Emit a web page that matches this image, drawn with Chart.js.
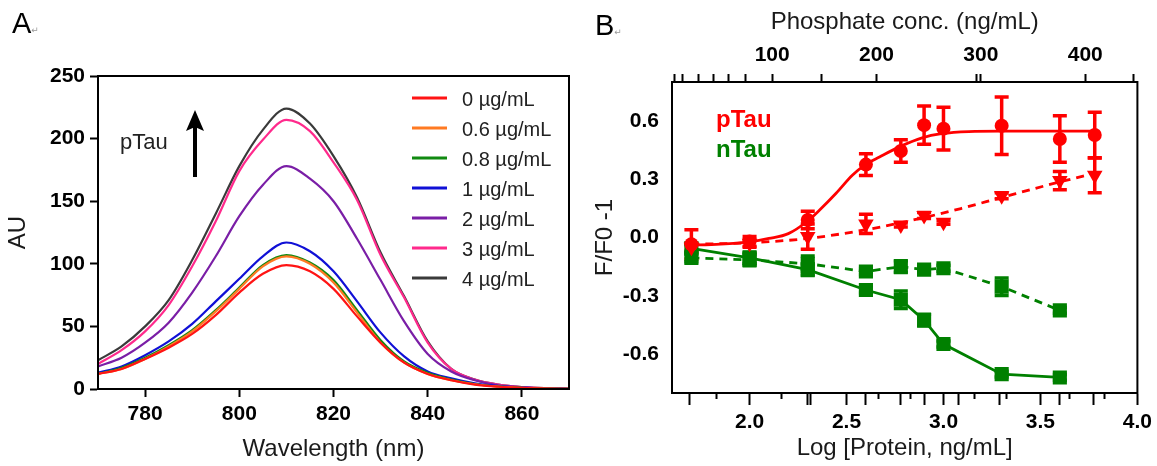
<!DOCTYPE html>
<html><head><meta charset="utf-8">
<script src="https://cdn.jsdelivr.net/npm/chart.js@4.4.1/dist/chart.umd.min.js"></script>
<style>
html,body{margin:0;padding:0;background:#fff;}
#wrap{position:relative;width:1157px;height:466px;overflow:hidden;background:#fff;}
canvas{position:absolute;top:0;}
#cA{left:0;} #cB{left:580px;}
.pl{position:absolute;font-family:"Liberation Sans",Arial,sans-serif;font-size:29px;color:#000;line-height:normal;}
.pl span{font-size:9px;color:#999;font-family:"DejaVu Sans",sans-serif;}
</style></head><body>
<div id="wrap">
<canvas id="cA" width="580" height="466"></canvas>
<canvas id="cB" width="577" height="466"></canvas>
<div class="pl" style="left:12px;top:7px;">A<span>↵</span></div>
<div class="pl" style="left:595px;top:9px;">B<span>↵</span></div>
</div>
<script>
// ---------- Panel A data ----------
const wavelengths = [770,775,780,785,790,795,800,805,810,815,820,825,830,835,840,845,850,855,860,865,870];
const au_0   = [12,16,24,33,44,59,77,92,99,94,80,58,37,21,12,7,3.5,1.8,0.9,0.4,0.1];
const au_06  = [12,16,24,34,46,62,80,98,106,100,85,61,37,21,12,7,3.8,2,1,0.4,0.1];
const au_08  = [12,17,25,35,47,63,81,99,107,101,87,63,39,22,13,7.5,4,2,1,0.4,0.1];
const au_1   = [13,18,27,38,52,70,88,106,117,110,94,70,45,26,14,8.5,4.5,2.3,1.2,0.5,0.2];
const au_2   = [18,25,37,53,77,106,138,163,178,168,150,120,87,54,28,14,7,3,1.4,0.5,0.2];
const au_3   = [20,31,46,67,98,134,174,199,215,206,181,151,107,73,37,16,7.5,3.5,1.5,0.6,0.2];
const au_4   = [23,34,50,71,103,140,178,207,224,212,186,153,109,74,38,16,7.5,3.5,1.5,0.6,0.2];
const concLabels = ['0 µg/mL','0.6 µg/mL','0.8 µg/mL','1 µg/mL','2 µg/mL','3 µg/mL','4 µg/mL'];
const wavelengthTicks = [780,800,820,840,860];
const auTicks = [0,50,100,150,200,250];

// ---------- Panel B data ----------
const logConc      = [1.70,2.00,2.30,2.60,2.78,2.90,3.00,3.30,3.60,3.78];
const pTauCircle   = [-0.035,-0.02,0.09,0.375,0.445,0.578,0.56,0.575,0.507,0.527];
const pTauCircleErr= [0.075,0.025,0.045,0.056,0.058,0.098,0.11,0.148,0.12,0.118];
const pTauTri      = [-0.05,-0.03,0.005,0.07,0.064,0.113,0.078,0.215,0.293,0.32];
const pTauTriErr   = [0.02,0.02,0.065,0.05,0.01,0.015,0.01,0.015,0.047,0.09];
const pTauFitX     = [1.68,1.85,2.0,2.1,2.2,2.3,2.36,2.445,2.53,2.6,2.67,2.78,2.89,2.99,3.13,3.3,3.5,3.78];
const pTauFitY     = [-0.04,-0.034,-0.022,-0.005,0.02,0.085,0.14,0.226,0.32,0.376,0.414,0.47,0.513,0.534,0.545,0.547,0.547,0.547];
const pTauTriFitX  = [1.70,2.0,2.3,2.6,2.84,3.09,3.3,3.6,3.78];
const pTauTriFitY  = [-0.035,-0.027,-0.005,0.04,0.089,0.149,0.206,0.286,0.33];
const nTauConc     = [1.70,2.00,2.30,2.60,2.78,2.90,3.00,3.30,3.60];
const nTauSolid    = [-0.056,-0.105,-0.165,-0.27,-0.32,-0.425,-0.548,-0.703,-0.72];
const nTauSolidErr = [0.02,0.03,0.03,0.015,0.045,0.03,0.015,0.015,0.015];
const nTauDash     = [-0.105,-0.115,-0.135,-0.175,-0.15,-0.165,-0.158,-0.253,-0.375];
const nTauDashErr  = [0.02,0.03,0.04,0.015,0.03,0.015,0.015,0.045,0.015];
const logTicksLong  = [1.692,2.0,2.299,2.316,2.5,2.598,2.778,2.903,3.0,3.08,3.29,3.5,3.598,3.774,4.0];
const logTicksShort = [1.832,2.166,2.663,2.829,3.162,3.325,3.65,3.829];
const logLabelValues = [2.0,2.5,3.0,3.5,4.0];
const logLabelTexts  = ['2.0','2.5','3.0','3.5','4.0'];
const phosTicks = [6,14,29,44,58,74,100,147,200,296,300,400,446];
const phosLabelValues = [100,200,300,400];
const phosLabelTexts  = ['100','200','300','400'];
const ratioTicks = [-0.6,-0.3,0,0.3,0.6];
const ratioTickLabels = ['-0.6','-0.3','0.0','0.3','0.6'];

// ---------- styling ----------
const FONT = '"Liberation Sans", Arial, sans-serif';
Chart.defaults.font.family = FONT;
const tickFont = {family: FONT, size: 21, weight: 'bold'};
const titleFont = {family: FONT, size: 24, weight: 'normal'};
const RED = '#ff0000', GREEN = '#008000';
const specColors = ['#ff1414','#ff7a22','#118a11','#1010d6','#7a1ea6','#ff2a8c','#3a3a3a'];

const pts = (xs, ys) => xs.map((x, i) => ({x: x, y: ys[i]}));
const labelFrom = (vals, texts) => (v) => {
  const k = vals.findIndex(t => Math.abs(t - v) < 1e-6);
  return k >= 0 ? texts[k] : '';
};

const frame = {
  id: 'frame',
  afterDraw(c) {
    const a = c.chartArea, ctx = c.ctx;
    ctx.save(); ctx.strokeStyle = '#000'; ctx.lineWidth = 2;
    ctx.strokeRect(a.left, a.top, a.right - a.left, a.bottom - a.top);
    ctx.restore();
  }
};

const legendA = {
  id: 'legendA',
  afterDraw(c) {
    const ctx = c.ctx;
    ctx.save();
    ctx.font = '20px ' + FONT; ctx.textBaseline = 'middle'; ctx.fillStyle = '#222';
    c.data.datasets.forEach((ds, i) => {
      const y = 98 + 30 * i;
      ctx.strokeStyle = ds.borderColor; ctx.lineWidth = 3;
      ctx.beginPath(); ctx.moveTo(412, y); ctx.lineTo(447, y); ctx.stroke();
      ctx.fillText(ds.label, 462, y + 2);
    });
    ctx.restore();
  }
};

const annA = {
  id: 'annA',
  afterDraw(c) {
    const ctx = c.ctx;
    ctx.save();
    ctx.fillStyle = '#222'; ctx.font = '22px ' + FONT; ctx.textBaseline = 'alphabetic';
    ctx.fillText('pTau', 120, 149);
    ctx.fillStyle = '#000';
    ctx.fillRect(193, 126, 4, 51);
    ctx.beginPath(); ctx.moveTo(195, 110); ctx.lineTo(186, 131); ctx.lineTo(195, 127); ctx.lineTo(204, 131); ctx.closePath(); ctx.fill();
    ctx.restore();
  }
};

new Chart(document.getElementById('cA'), {
  type: 'line',
  data: {
    datasets: [au_0, au_06, au_08, au_1, au_2, au_3, au_4].map((s, i) => ({
      label: concLabels[i], data: pts(wavelengths, s), borderColor: specColors[i],
      borderWidth: 2.2, pointRadius: 0, cubicInterpolationMode: 'monotone', fill: false
    }))
  },
  options: {
    responsive: false, animation: false, events: [],
    layout: {padding: {top: 76, right: 11, left: 0, bottom: 0}},
    plugins: {legend: {display: false}, tooltip: {enabled: false}},
    scales: {
      x: {
        type: 'linear', position: 'bottom', min: 770, max: 870,
        afterBuildTicks: s => { s.ticks = wavelengthTicks.map(v => ({value: v})); },
        afterFit: s => { s.height = 77; },
        ticks: {font: tickFont, color: '#000', padding: 5, maxRotation: 0, autoSkip: false, callback: v => String(v)},
        grid: {drawOnChartArea: false, drawTicks: true, tickLength: 8, tickWidth: 2, tickColor: '#000'},
        border: {display: true, color: '#000', width: 2},
        title: {display: true, text: 'Wavelength (nm)', font: titleFont, color: '#1a1a1a', padding: {top: 0, bottom: 2}}
      },
      y: {
        type: 'linear', position: 'left', min: 0, max: 250,
        afterBuildTicks: s => { s.ticks = auTicks.map(v => ({value: v})); },
        afterFit: s => { s.width = 98; },
        ticks: {font: tickFont, color: '#000', padding: 5, autoSkip: false, callback: v => String(v)},
        grid: {drawOnChartArea: false, drawTicks: true, tickLength: 8, tickWidth: 2, tickColor: '#000'},
        border: {display: true, color: '#000', width: 2},
        title: {display: true, text: 'AU', font: titleFont, color: '#1a1a1a', padding: {top: 4, bottom: 0}}
      }
    }
  },
  plugins: [frame, legendA, annA]
});

// ---------- Panel B ----------
const errorBars = {
  id: 'errorBars',
  beforeDatasetsDraw(c) {
    const ctx = c.ctx;
    c.data.datasets.forEach((ds, i) => {
      if (!ds.errors) return;
      const meta = c.getDatasetMeta(i);
      const xs = c.scales[meta.xAxisID], ys = c.scales[meta.yAxisID];
      ctx.save(); ctx.strokeStyle = ds.borderColor; ctx.lineWidth = 3.5;
      ds.data.forEach((p, j) => {
        const e = ds.errors[j];
        const x = xs.getPixelForValue(p.x);
        const yt = ys.getPixelForValue(p.y + e), yb = ys.getPixelForValue(p.y - e);
        ctx.beginPath();
        ctx.moveTo(x, yt); ctx.lineTo(x, yb);
        ctx.moveTo(x - 7, yt); ctx.lineTo(x + 7, yt);
        ctx.moveTo(x - 7, yb); ctx.lineTo(x + 7, yb);
        ctx.stroke();
      });
      ctx.restore();
    });
  }
};

const annB = {
  id: 'annB',
  afterDraw(c) {
    const ctx = c.ctx;
    ctx.save();
    ctx.font = 'bold 24px ' + FONT; ctx.textBaseline = 'alphabetic';
    ctx.fillStyle = RED; ctx.fillText('pTau', 136, 127);
    ctx.fillStyle = GREEN; ctx.fillText('nTau', 136, 157);
    ctx.restore();
  }
};

new Chart(document.getElementById('cB'), {
  type: 'line',
  data: {
    datasets: [
      {label: 'pTau', data: pts(logConc, pTauCircle), errors: pTauCircleErr, showLine: false,
       borderColor: RED, backgroundColor: RED, pointStyle: 'circle', pointRadius: 7, pointBorderWidth: 0},
      {label: 'pTau fit', data: pts(pTauFitX, pTauFitY), borderColor: RED, borderWidth: 2.8,
       pointRadius: 0, cubicInterpolationMode: 'monotone'},
      {label: 'pTau tri', data: pts(logConc, pTauTri), errors: pTauTriErr, showLine: false,
       borderColor: RED, backgroundColor: RED, pointStyle: 'triangle', pointRotation: 180, pointRadius: 9, pointBorderWidth: 0},
      {label: 'pTau tri fit', data: pts(pTauTriFitX, pTauTriFitY), borderColor: RED, borderWidth: 2.8,
       borderDash: [8, 6], pointRadius: 0, cubicInterpolationMode: 'monotone'},
      {label: 'nTau', data: pts(nTauConc, nTauSolid), errors: nTauSolidErr, borderColor: GREEN, backgroundColor: GREEN,
       borderWidth: 2.8, pointStyle: 'rect', pointRadius: 10, pointBorderWidth: 0},
      {label: 'nTau dashed', data: pts(nTauConc, nTauDash), errors: nTauDashErr, borderColor: GREEN, backgroundColor: GREEN,
       borderWidth: 2.8, borderDash: [8, 6], pointStyle: 'rect', pointRadius: 10, pointBorderWidth: 0}
    ]
  },
  options: {
    responsive: false, animation: false, events: [],
    layout: {padding: {top: 0, right: 17, left: 0, bottom: 0}},
    plugins: {legend: {display: false}, tooltip: {enabled: false}},
    scales: {
      x: {
        type: 'linear', position: 'bottom', weight: 1, min: 1.6, max: 4.0,
        afterBuildTicks: s => { s.ticks = logTicksLong.map(v => ({value: v})); },
        afterFit: s => { s.height = 73; },
        ticks: {font: tickFont, color: '#000', padding: 5, maxRotation: 0, autoSkip: false,
                callback: labelFrom(logLabelValues, logLabelTexts)},
        grid: {drawOnChartArea: false, drawTicks: true, tickLength: 12, tickWidth: 2, tickColor: '#000'},
        border: {display: true, color: '#000', width: 2},
        title: {display: true, text: 'Log [Protein, ng/mL]', font: titleFont, color: '#1a1a1a', padding: {top: 0, bottom: 3}}
      },
      xMinor: {
        type: 'linear', position: 'bottom', weight: 0, min: 1.6, max: 4.0,
        afterBuildTicks: s => { s.ticks = logTicksShort.map(v => ({value: v})); },
        afterFit: s => { s.height = 0; },
        ticks: {display: false, autoSkip: false},
        grid: {drawOnChartArea: false, drawTicks: true, tickLength: 6, tickWidth: 2, tickColor: '#000'},
        border: {display: false}
      },
      xTop: {
        type: 'linear', position: 'top', min: 4, max: 450,
        afterBuildTicks: s => { s.ticks = phosTicks.map(v => ({value: v})); },
        afterFit: s => { s.height = 82; },
        ticks: {font: tickFont, color: '#000', padding: 6, maxRotation: 0, autoSkip: false,
                callback: labelFrom(phosLabelValues, phosLabelTexts)},
        grid: {drawOnChartArea: false, drawTicks: true, tickLength: 8, tickWidth: 2, tickColor: '#000'},
        border: {display: true, color: '#000', width: 2},
        title: {display: true, text: 'Phosphate conc. (ng/mL)', font: titleFont, color: '#1a1a1a', padding: {top: 8, bottom: 0}}
      },
      y: {
        type: 'linear', position: 'left', min: -0.8, max: 0.8,
        afterBuildTicks: s => { s.ticks = ratioTicks.map(v => ({value: v})); },
        afterFit: s => { s.width = 92; },
        ticks: {font: tickFont, color: '#000', padding: 13, autoSkip: false,
                callback: labelFrom(ratioTicks, ratioTickLabels)},
        grid: {drawOnChartArea: false, drawTicks: false},
        border: {display: true, color: '#000', width: 2},
        title: {display: true, text: 'F/F0 -1', font: titleFont, color: '#1a1a1a', padding: {top: 11, bottom: 0}}
      }
    }
  },
  plugins: [errorBars, frame, annB]
});
</script>
</body></html>
